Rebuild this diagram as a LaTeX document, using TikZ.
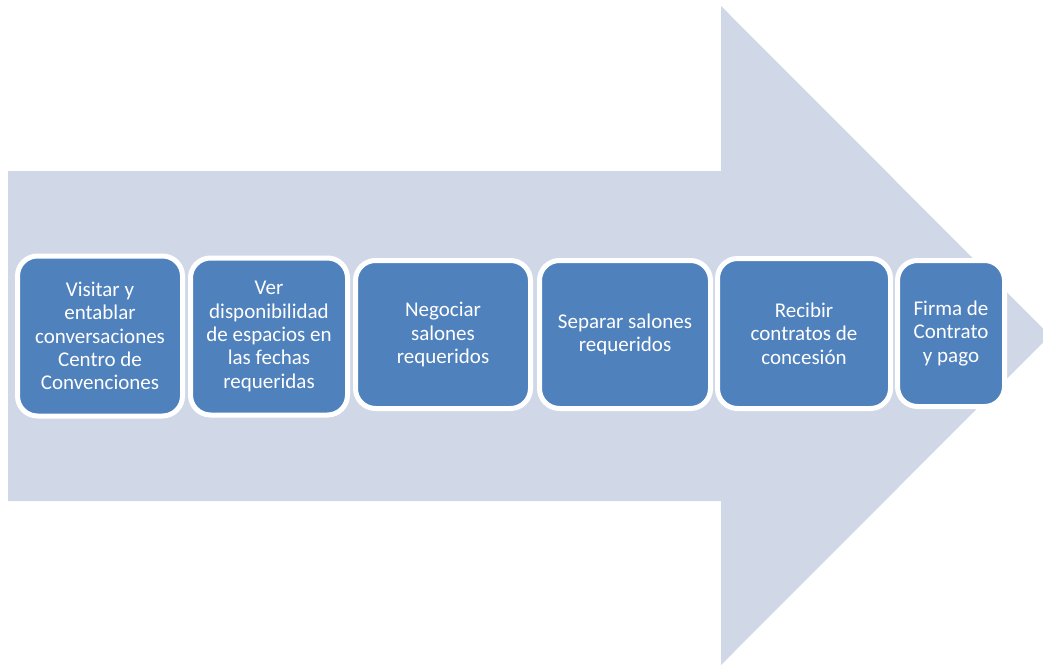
\documentclass[tikz,border=0pt]{standalone}
\usepackage{fontspec}
\setmainfont{Carlito}
\definecolor{arrowfill}{HTML}{D0D8E8}
\definecolor{boxfill}{HTML}{4F81BD}
\begin{document}
\begin{tikzpicture}[x=1pt,y=-1pt,
  stepbox/.style={draw=white, line width=5pt, fill=boxfill, rounded corners=20pt,
    text=white, align=center, inner sep=0pt,
    font=\fontsize{21pt}{23.4pt}\selectfont}]
\useasboundingbox (0,0) rectangle (1043,666);
\fill[arrowfill] (8,171) -- (721,171) -- (721,6) -- (1050,335.5) -- (721,665) -- (721,501) -- (8,501) -- cycle;
\node[stepbox, minimum width=165pt, minimum height=160pt] (s1) at (100,336)
  {Visitar y\\entablar\\conversaciones\\Centro de\\Convenciones};
\node[stepbox, minimum width=157pt, minimum height=157pt] (s2) at (269,336.5)
  {Ver\\disponibilidad\\de espacios en\\las fechas\\requeridas};
\node[stepbox, minimum width=175pt, minimum height=148pt] (s3) at (443,334.5)
  {Negociar\\salones\\requeridos};
\node[stepbox, minimum width=171pt, minimum height=148pt] (s4) at (625,334.5)
  {Separar salones\\requeridos};
\node[stepbox, minimum width=173pt, minimum height=150pt] (s5) at (804,333.5)
  {Recibir\\contratos de\\concesión};
\node[stepbox, minimum width=107pt, minimum height=146pt] (s6) at (951,333.5)
  {Firma de\\Contrato\\y pago};
\end{tikzpicture}
\end{document}
